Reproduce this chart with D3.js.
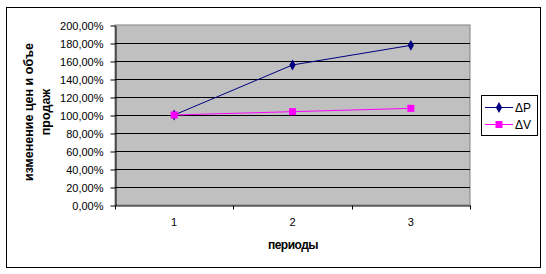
<!DOCTYPE html>
<html>
<head>
<meta charset="utf-8">
<script src="https://cdn.jsdelivr.net/npm/d3@7"></script>
<style>
body { margin: 0; background: #fff; }
text { font-family: "Liberation Sans", Arial, sans-serif; }
</style>
</head>
<body>
<div class="chart"></div>
<script>
var periods = ["1", "2", "3"];
var deltaP = [1.00, 1.556, 1.774];
var deltaV = [1.00, 1.037, 1.074];
var yTicks = [0, 0.2, 0.4, 0.6, 0.8, 1.0, 1.2, 1.4, 1.6, 1.8, 2.0];

var W = 546, H = 274;
var plot = {left: 115, right: 470, top: 25, bottom: 205};

var svg = d3.select(".chart")
            .append("svg")
            .attr("width", W)
            .attr("height", H);

// chart area border
svg.append("rect")
    .attr("x", 6.5).attr("y", 7.5)
    .attr("width", 534).attr("height", 260)
    .attr("fill", "#fff")
    .attr("stroke", "#000");

var x = d3.scaleBand()
          .domain(periods)
          .range([plot.left, plot.right]);

var y = d3.scaleLinear()
          .domain([0, 2])
          .range([plot.bottom, plot.top]);

// plot background
svg.append("rect")
    .attr("x", plot.left).attr("y", plot.top)
    .attr("width", plot.right - plot.left)
    .attr("height", plot.bottom - plot.top)
    .attr("fill", "#c0c0c0")
    .attr("stroke", "#808080");

// gridlines
svg.selectAll("line.grid")
    .data(yTicks.slice(1, -1))
    .enter()
    .append("line")
    .attr("class", "grid")
    .attr("x1", plot.left).attr("x2", plot.right)
    .attr("y1", function(d) { return Math.round(y(d)) + 0.5; })
    .attr("y2", function(d) { return Math.round(y(d)) + 0.5; })
    .attr("stroke", "#000");

// y axis
var yAxis = d3.axisLeft(y)
              .tickValues(yTicks)
              .tickSize(5)
              .tickSizeOuter(0)
              .tickPadding(7)
              .tickFormat(function(d) { return (d * 100).toFixed(2).replace(".", ",") + "%"; });

svg.append("g")
    .attr("transform", "translate(" + (plot.left + 0.5) + ",0.5)")
    .call(yAxis)
    .call(function(g) {
        g.selectAll("text").attr("font-size", 11).attr("fill", "#000").style("font-family", "Liberation Sans, Arial, sans-serif");
        g.selectAll("line").attr("stroke", "#000");
        g.select(".domain").attr("stroke", "#000");
    });

// x axis
var xAxis = d3.axisBottom(x)
              .tickSize(0)
              .tickPadding(13);

var gx = svg.append("g")
    .attr("transform", "translate(0," + (plot.bottom + 0.5) + ")")
    .call(xAxis)
    .call(function(g) {
        g.selectAll("text").attr("font-size", 11).attr("fill", "#000").style("font-family", "Liberation Sans, Arial, sans-serif");
        g.select(".domain").attr("stroke", "#000");
    });

// x ticks at category boundaries
var bounds = periods.map(function(p) { return x(p); }).concat([plot.right]);
gx.selectAll("line.bound")
    .data(bounds)
    .enter()
    .append("line")
    .attr("class", "bound")
    .attr("x1", function(d) { return Math.round(d) + 0.5; })
    .attr("x2", function(d) { return Math.round(d) + 0.5; })
    .attr("y1", 0).attr("y2", 4)
    .attr("stroke", "#000");

// lines
var cx = function(d, i) { return x(periods[i]) + x.bandwidth() / 2; };
var line = d3.line()
             .x(cx)
             .y(function(d) { return y(d); });

svg.append("path")
    .datum(deltaP)
    .attr("d", line)
    .attr("fill", "none")
    .attr("stroke", "#000080")
    .attr("stroke-width", 1);

svg.append("path")
    .datum(deltaV)
    .attr("d", line)
    .attr("fill", "none")
    .attr("stroke", "#ff00ff")
    .attr("stroke-width", 1);

var diamond = d3.symbol().type(d3.symbolDiamond).size(34);

svg.selectAll("path.mp")
    .data(deltaP)
    .enter()
    .append("path")
    .attr("class", "mp")
    .attr("d", diamond)
    .attr("transform", function(d, i) { return "translate(" + cx(d, i) + "," + y(d) + ")"; })
    .attr("fill", "#000080");

svg.selectAll("rect.mv")
    .data(deltaV)
    .enter()
    .append("rect")
    .attr("class", "mv")
    .attr("x", function(d, i) { return cx(d, i) - 3.5; })
    .attr("y", function(d) { return y(d) - 3.5; })
    .attr("width", 7).attr("height", 7)
    .attr("fill", "#ff00ff");

// axis titles
var ytitle = svg.append("text")
    .attr("transform", "translate(37," + 112 + ") rotate(-90)")
    .attr("text-anchor", "middle")
    .attr("font-size", 12.5)
    .attr("font-weight", "bold");
ytitle.append("tspan").attr("x", 0).attr("dy", "-0.3em").text("изменение цен и объе");
ytitle.append("tspan").attr("x", 0).attr("dy", "1.3em").text("продаж");

svg.append("text")
    .attr("x", 293).attr("y", 249)
    .attr("text-anchor", "middle")
    .attr("font-size", 12)
    .attr("font-weight", "bold")
    .attr("letter-spacing", "-0.5")
    .text("периоды");

// legend
var legend = svg.append("g");
legend.append("rect")
    .attr("x", 481.5).attr("y", 95.5)
    .attr("width", 56).attr("height", 40)
    .attr("fill", "#fff")
    .attr("stroke", "#000");

var items = [
    {name: "ΔP", color: "#000080", shape: "diamond"},
    {name: "ΔV", color: "#ff00ff", shape: "square"}
];

var li = legend.selectAll("g.item")
    .data(items)
    .enter()
    .append("g")
    .attr("class", "item")
    .attr("transform", function(d, i) { return "translate(0," + (107 + i * 17) + ")"; });

li.append("line")
    .attr("x1", 485).attr("x2", 513)
    .attr("y1", 0.5).attr("y2", 0.5)
    .attr("stroke", function(d) { return d.color; });

li.append("path")
    .attr("d", function(d) {
        return d.shape == "diamond" ? diamond() : d3.symbol().type(d3.symbolSquare).size(49)();
    })
    .attr("transform", "translate(499,0.5)")
    .attr("fill", function(d) { return d.color; });

li.append("text")
    .attr("x", 515).attr("y", 5)
    .attr("font-size", 12)
    .text(function(d) { return d.name; });
</script>
</body>
</html>
